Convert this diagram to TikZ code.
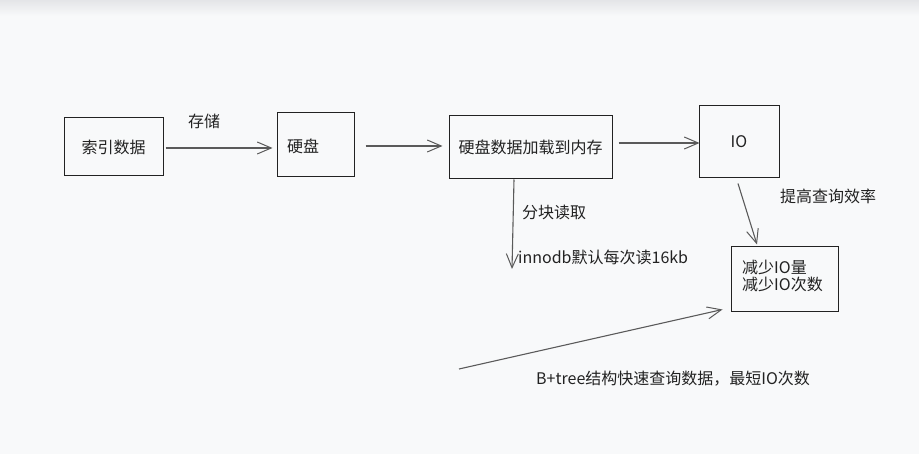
\documentclass[tikz,border=0pt]{standalone}
\usepackage{fontspec}
\setmainfont{Noto Sans CJK SC}
\usetikzlibrary{arrows.meta}
\definecolor{bgc}{HTML}{F8F9FA}
\definecolor{topc}{HTML}{E4E5E8}
\definecolor{txt}{HTML}{222222}
\definecolor{arr}{HTML}{5A5A5A}
\begin{document}
\begin{tikzpicture}[x=1pt,y=-1pt,
  every node/.style={font=\fontsize{16}{17}\selectfont, text=txt},
  box/.style={draw=txt, line width=1pt, inner sep=0pt, fill=bgc},
  conn/.style={draw=arr, line width=1.1pt, -{Straight Barb[length=14pt,width=12pt,line width=1pt]}},
  lbl/.style={inner sep=0pt, anchor=west}]
\fill[bgc] (0,0) rectangle (919,454);
\shade[top color=topc, bottom color=bgc] (0,0) rectangle (919,16);
\useasboundingbox (0,0) rectangle (919,454);

\node[box, minimum width=99pt, minimum height=58pt] (a) at (113.5,147) {索引数据};
\node[box, minimum width=77pt, minimum height=64pt] (b) at (315.5,145) {};
\node[lbl] (bt) at (287,146) {硬盘};
\node[box, minimum width=163pt, minimum height=63pt] (c) at (530.5,147.5) {硬盘数据加载到内存};
\node[box, minimum width=80pt, minimum height=72pt] (d) at (739,142) {IO};
\node[box, minimum width=107pt, minimum height=65pt] (e) at (784.5,279.5) {};
\node[lbl, align=left] (et) at (742,276) {减少IO量\\减少IO次数};

\coordinate (down) at (512,269);
\coordinate (bstart) at (459,369);

\draw[conn] ([xshift=2pt,yshift=-1pt]a.east) -- ([xshift=-4pt,yshift=-3pt]b.west);
\draw[conn] ([xshift=11pt,yshift=-1pt]b.east) -- ([xshift=-6pt,yshift=1.5pt]c.west);
\draw[conn] ([xshift=6pt,yshift=4.5pt]c.east) -- ([xshift=1pt,yshift=-1pt]d.west);
\draw[conn] ([xshift=-16.5pt]c.south) -- (down);
\draw[conn] ([xshift=-1pt,yshift=-5pt]d.south) -- ([xshift=-27.5pt,yshift=2pt]e.north);
\draw[conn] (bstart) -- ([xshift=-8pt,yshift=3pt]e.south west);

\node[lbl] (l1) at (188,121) {存储};
\node[lbl] (l2) at (522,212) {分块读取};
\node[lbl] (l3) at (518,257) {innodb默认每次读16kb};
\node[lbl] (l4) at (780,196) {提高查询效率};
\node[lbl] (l5) at (536,379) {B+tree结构快速查询数据，最短IO次数};
\end{tikzpicture}
\end{document}
